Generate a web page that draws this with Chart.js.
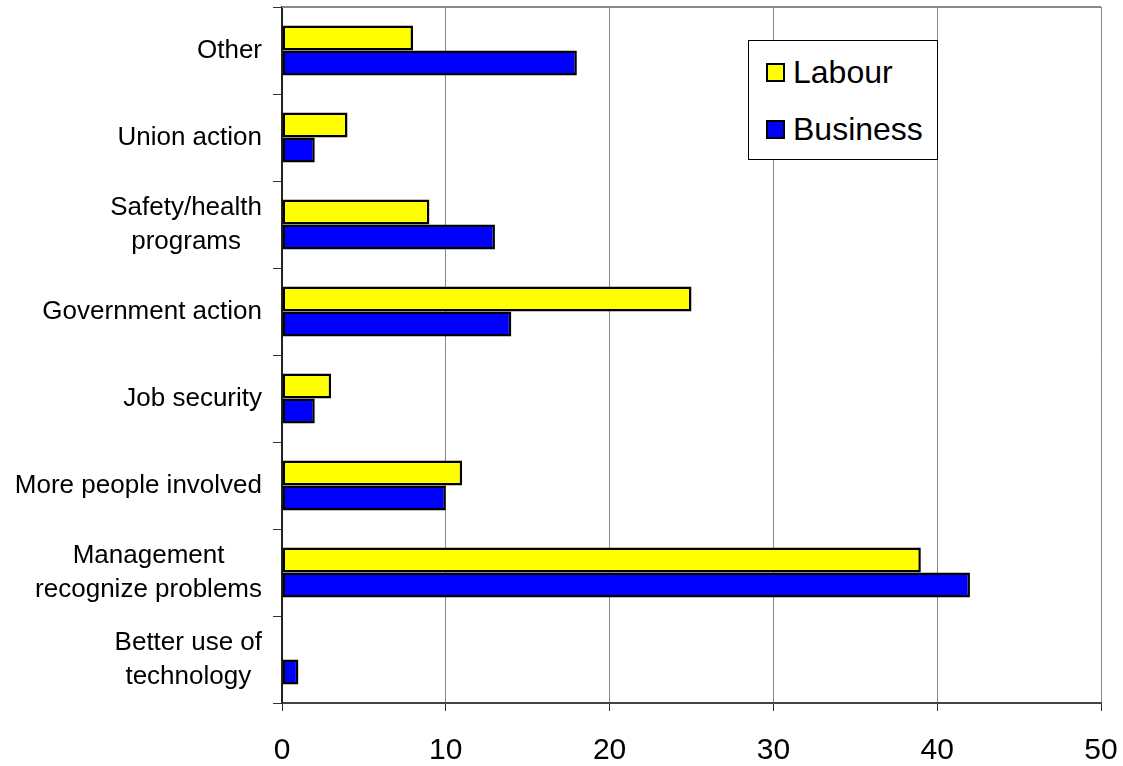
<!DOCTYPE html>
<html>
<head>
<meta charset="utf-8">
<script src="https://cdn.jsdelivr.net/npm/chart.js@4/dist/chart.umd.min.js"></script>
<style>
  body { margin: 0; background: #fff; }
  #wrap { position: relative; width: 1123px; height: 766px; }
  #legend {
    position: absolute; left: 748px; top: 40px; width: 188px; height: 118px;
    border: 1px solid #000; background: #fff;
    font-family: "Liberation Sans", Arial, sans-serif; font-size: 32px; color: #000;
  }
  .item { position: absolute; left: 17px; height: 34px; line-height: 34px; white-space: nowrap; }
  .item span.box {
    display: inline-block; width: 15px; height: 15px; border: 2px solid #000;
    vertical-align: middle; margin-right: 8px; position: relative; top: -2px;
  }
</style>
</head>
<body>
<div id="wrap">
  <canvas id="chart" width="1123" height="766"></canvas>
  <div id="legend"></div>
</div>
<script>
const categories = [
  "Other",
  "Union action",
  ["Safety/health", "programs"],
  "Government action",
  "Job security",
  "More people involved",
  ["Management", "recognize problems"],
  ["Better use of", "technology"]
];
const labourValues = [8, 4, 9, 25, 3, 11, 39, 0];
const businessValues = [18, 2, 13, 14, 2, 10, 42, 1];
const xTicks = [0, 10, 20, 30, 40, 50];

const FONT = "'Liberation Sans', Arial, sans-serif";

// top frame line of the plot area (right side is covered by the 50 gridline)
const frame = {
  id: "frame",
  beforeDatasetsDraw(chart) {
    const a = chart.chartArea;
    const ctx = chart.ctx;
    ctx.save();
    ctx.strokeStyle = "#888";
    ctx.lineWidth = 2;
    ctx.beginPath();
    ctx.moveTo(a.left, a.top);
    ctx.lineTo(a.right, a.top);
    ctx.stroke();
    ctx.restore();
  }
};

// category labels: block right aligned, lines centred on each other
const catLabels = {
  id: "catLabels",
  afterDraw(chart) {
    const y = chart.scales.y;
    const ctx = chart.ctx;
    const right = chart.chartArea.left - 20;
    const lh = 34;
    ctx.save();
    ctx.font = "26px " + FONT;
    ctx.fillStyle = "#000";
    ctx.textAlign = "center";
    ctx.textBaseline = "middle";
    categories.forEach((c, i) => {
      const lines = Array.isArray(c) ? c : [c];
      const w = Math.max(...lines.map((l) => ctx.measureText(l).width));
      const cx = right - w / 2;
      const cy = y.getPixelForTick(i);
      lines.forEach((l, j) => {
        ctx.fillText(l, cx, cy + (j - (lines.length - 1) / 2) * lh);
      });
    });
    ctx.restore();
  }
};

const datasets = [
  { label: "Labour", data: labourValues, backgroundColor: "#ffff00" },
  { label: "Business", data: businessValues, backgroundColor: "#0000ff" }
];

new Chart(document.getElementById("chart"), {
  type: "bar",
  data: {
    labels: categories,
    datasets: datasets.map((d) => ({
      ...d,
      borderColor: "#000",
      borderWidth: 2.5,
      borderSkipped: false,
      categoryPercentage: 0.575,
      barPercentage: 1
    }))
  },
  options: {
    indexAxis: "y",
    responsive: false,
    animation: false,
    layout: { padding: { top: 7, right: 22, left: 0, bottom: 0 } },
    plugins: { legend: { display: false }, tooltip: { enabled: false } },
    scales: {
      x: {
        min: 0,
        max: 50,
        afterBuildTicks: (s) => { s.ticks = xTicks.map((v) => ({ value: v })); },
        afterFit: (s) => {
          s.height = 63;
          s.paddingLeft = 0;
          s.paddingRight = 0;
        },
        grid: { color: "#888", lineWidth: 1, tickLength: 8, tickColor: "#333", tickWidth: 1 },
        border: { color: "#444", width: 2 },
        ticks: { color: "#000", padding: 22, font: { family: FONT, size: 30 } }
      },
      y: {
        afterFit: (s) => {
          s.width = 282;
          s.paddingTop = 0;
          s.paddingBottom = 0;
        },
        grid: { drawOnChartArea: false, tickLength: 9, tickColor: "#333", tickWidth: 1, offset: true },
        border: { color: "#222", width: 2 },
        ticks: { display: false }
      }
    }
  },
  plugins: [frame, catLabels]
});

// legend box built from the datasets
const legend = document.getElementById("legend");
datasets.forEach((d, i) => {
  const el = document.createElement("div");
  el.className = "item";
  el.style.top = (14 + i * 57) + "px";
  el.innerHTML = '<span class="box" style="background:' + d.backgroundColor + '"></span>' + d.label;
  legend.appendChild(el);
});
</script>
</body>
</html>
